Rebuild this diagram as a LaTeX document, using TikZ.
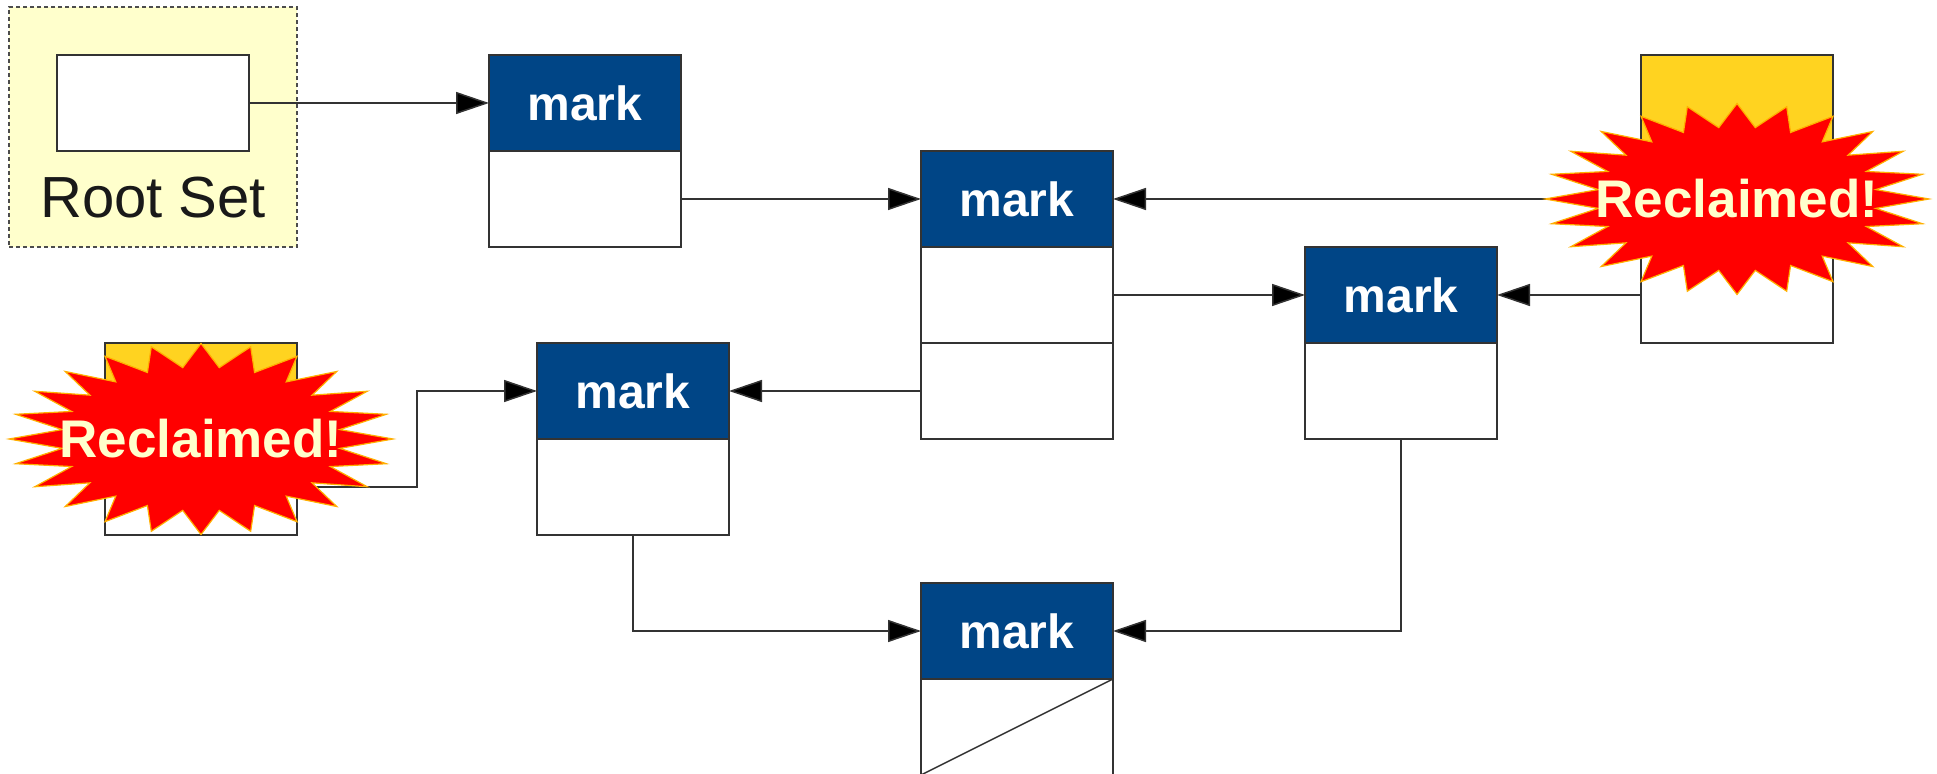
\documentclass[tikz,border=0pt]{standalone}
\usepackage{fontspec}
\setmainfont{Liberation Sans}
\usepackage{tikz}
\usetikzlibrary{arrows.meta,positioning}
\usepackage{xcolor}
\definecolor{markblue}{HTML}{004586}
\definecolor{deadyellow}{HTML}{FFD320}
\definecolor{rootyellow}{HTML}{FFFFCC}
\definecolor{burstred}{HTML}{FF0000}
\definecolor{burstrim}{HTML}{FFB000}
\definecolor{burstink}{HTML}{FFFFCC}

\begin{document}
\begin{tikzpicture}[
  x=0.5pt, y=-0.5pt,
  >={Triangle[length=16.5pt, width=11pt, fill=black]},
  hdr/.style={draw=black!80, line width=0.7pt, fill=markblue, text=white,
              font=\fontsize{24}{28}\selectfont\bfseries,
              minimum width=96pt, minimum height=48pt, inner sep=0pt,
              outer sep=0pt},
  deadhdr/.style={hdr, fill=deadyellow},
  cell/.style={draw=black!80, line width=0.7pt, fill=white,
               minimum width=96pt, minimum height=48pt, inner sep=0pt,
               outer sep=0pt},
  rootbox/.style={draw=black!70, fill=rootyellow, dash pattern=on 2pt off 1.5pt,
                  line width=0.6pt, minimum width=144pt, minimum height=120pt,
                  inner sep=0pt, outer sep=0pt},
  rootlabel/.style={font=\fontsize{29}{32}\selectfont, text=black!90, inner sep=0pt},
  wire/.style={draw=black!80, line width=0.75pt},
  arr/.style={wire, ->},
  burst/.style={fill=burstred, draw=burstrim, line width=0.6pt, line join=miter},
  burstlabel/.style={font=\fontsize{26.5}{30}\selectfont\bfseries, text=burstink,
                     inner sep=0pt}
]
  \useasboundingbox (0,0) rectangle (1937,774);

  % Root set
  \node[rootbox, anchor=north west] (rootset) at (9,7) {};
  \node[cell, anchor=north west] (rootslot) at (57,55) {};
  \node[rootlabel, anchor=base] (rootname) at (153,218) {Root Set};

  % Live objects
  \node[hdr, anchor=north west] (hdrA) at (489,55) {mark};
  \node[cell, below=0pt of hdrA] (cellA) {};

  \node[hdr, anchor=north west] (hdrB) at (921,151) {mark};
  \node[cell, below=0pt of hdrB] (cellB1) {};
  \node[cell, below=0pt of cellB1] (cellB2) {};

  \node[hdr, anchor=north west] (hdrC) at (1305,247) {mark};
  \node[cell, below=0pt of hdrC] (cellC) {};

  \node[hdr, anchor=north west] (hdrD) at (537,343) {mark};
  \node[cell, below=0pt of hdrD] (cellD) {};

  \node[hdr, anchor=north west] (hdrE) at (921,583) {mark};
  \node[cell, below=0pt of hdrE] (cellE) {};
  \draw[wire] (cellE.south west) -- (cellE.north east);

  % Garbage objects
  \node[deadhdr, anchor=north west] (hdrF) at (105,343) {};
  \node[cell, below=0pt of hdrF] (cellF) {};

  \node[deadhdr, anchor=north west] (hdrG) at (1641,55) {};
  \node[cell, below=0pt of hdrG] (cellG1) {};
  \node[cell, below=0pt of cellG1] (cellG2) {};

  % References
  \coordinate (bendF) at (417,487);
  \draw[arr] (rootslot.east) -- (hdrA.west);
  \draw[arr] (cellA.east) -- (hdrB.west);
  \draw[arr] (cellB1.east) -- (hdrC.west);
  \draw[arr] (cellB2.west) -- (hdrD.east);
  \draw[arr] (cellD.south) |- (hdrE.west);
  \draw[arr] (cellC.south) |- (hdrE.east);
  \draw[arr] (cellG1.west) -- (hdrB.east);
  \draw[arr] (cellG2.west) -- (hdrC.east);
  \draw[arr] (cellF.east) -- (bendF) |- (hdrD.west);

  % Reclaimed bursts
  \coordinate (burstF) at (201,439);
  \coordinate (burstG) at (1737,199);
  \foreach \c in {burstF,burstG}{
    \draw[burst, shift={(\c)}] (192,0)
      \foreach \k in {1,...,24}{
        -- ({140*cos(15*\k-7.5)},{72*sin(15*\k-7.5)})
        -- ({192*cos(15*\k)},{95.5*sin(15*\k)})
      } -- cycle;
  }
  \node[burstlabel] (reclaimF) at (burstF) {Reclaimed!};
  \node[burstlabel] (reclaimG) at (burstG) {Reclaimed!};
\end{tikzpicture}
\end{document}
